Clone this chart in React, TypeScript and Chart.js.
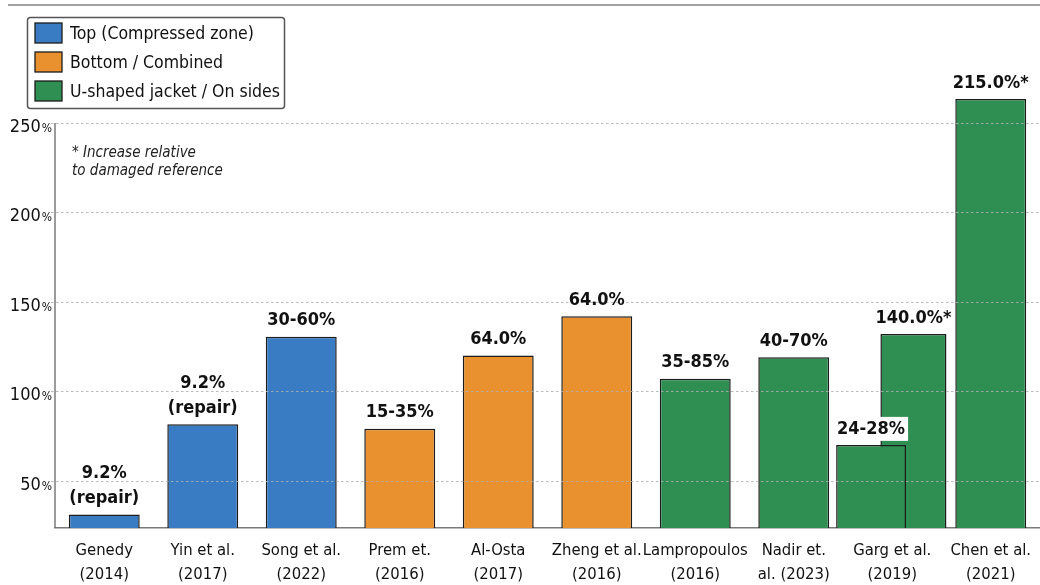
import React, { useEffect, useRef } from 'react';
import { Chart, registerables } from 'chart.js';

Chart.register(...registerables);

const FONT = '"DejaVu Sans Condensed", "DejaVu Sans", sans-serif';

const categories: string[][] = [
  ['Genedy', '(2014)'],
  ['Yin et al.', '(2017)'],
  ['Song et al.', '(2022)'],
  ['Prem et.', '(2016)'],
  ['Al-Osta', '(2017)'],
  ['Zheng et al.', '(2016)'],
  ['Lampropoulos', '(2016)'],
  ['Nadir et.', 'al. (2023)'],
  ['Garg et al.', '(2019)'],
  ['Chen et al.', '(2021)'],
];

const legendLabels = ['Top (Compressed zone)', 'Bottom / Combined', 'U-shaped jacket / On sides'];

const topValues = [31, 81.5, 130.5, null, null, null, null, null, null, null];
const bottomValues = [null, null, null, 79, 120, 142, null, null, null, null];
const uShapedValues = [null, null, null, null, null, null, 107, 119, null, 263.5];
const gargLowValues = [null, null, null, null, null, null, null, null, 70, null];
const gargHighValues = [null, null, null, null, null, null, null, null, 132, null];

const topText: (string[] | null)[] = [['9.2%', '(repair)'], ['9.2%', '(repair)'], ['30-60%'], null, null, null, null, null, null, null];
const bottomText: (string[] | null)[] = [null, null, null, ['15-35%'], ['64.0%'], ['64.0%'], null, null, null, null];
const uShapedText: (string[] | null)[] = [null, null, null, null, null, null, ['35-85%'], ['40-70%'], null, ['215.0%*']];
const gargLowText: (string[] | null)[] = [null, null, null, null, null, null, null, null, ['24-28%'], null];
const gargHighText: (string[] | null)[] = [null, null, null, null, null, null, null, null, ['140.0%*'], null];

const yTicks = [50, 100, 150, 200, 250];
const noteLines = ['* Increase relative', 'to damaged reference'];

const COLORS = { top: '#3a7cc3', bottom: '#e8912e', u: '#2f8f53' };

const overlayPlugin = {
  id: 'overlay',
  afterDatasetsDraw(chart: any) {
    const { ctx, chartArea, scales } = chart;
    const y = scales.y;
    ctx.save();
    ctx.strokeStyle = 'rgba(175,175,175,0.85)';
    ctx.lineWidth = 1;
    ctx.setLineDash([2.5, 2.5]);
    yTicks.forEach((v) => {
      const py = Math.round(y.getPixelForValue(v)) + 0.5;
      ctx.beginPath();
      ctx.moveTo(chartArea.left - 4, py);
      ctx.lineTo(chartArea.right, py);
      ctx.stroke();
    });
    ctx.restore();
    ctx.save();
    ctx.strokeStyle = '#7a7a7a';
    ctx.lineWidth = 1.5;
    ctx.beginPath();
    ctx.moveTo(chartArea.left, y.getPixelForValue(yTicks[yTicks.length - 1]));
    ctx.lineTo(chartArea.left, chartArea.bottom);
    ctx.stroke();
    ctx.restore();
    ctx.save();
    ctx.font = `bold 18px ${FONT}`;
    ctx.textAlign = 'center';
    ctx.textBaseline = 'middle';
    chart.data.datasets.forEach((ds: any, di: number) => {
      const meta = chart.getDatasetMeta(di);
      meta.data.forEach((bar: any, i: number) => {
        const lines = ds.valueText ? ds.valueText[i] : null;
        if (!lines || ds.data[i] == null) return;
        const n = lines.length;
        lines.forEach((line: string, li: number) => {
          const cy = bar.y - 16 - (n - 1 - li) * 25;
          if (ds.labelBackground) {
            const w = ctx.measureText(line).width + 6;
            ctx.fillStyle = '#ffffff';
            ctx.fillRect(bar.x - w / 2, cy - 12, w, 24);
          }
          ctx.fillStyle = '#111111';
          ctx.fillText(line, bar.x, cy);
        });
      });
    });
    ctx.restore();
  },
  afterDraw(chart: any) {
    const { ctx, chartArea, scales } = chart;
    const y = scales.y;
    ctx.save();
    ctx.strokeStyle = '#a0a0a0';
    ctx.lineWidth = 2;
    ctx.beginPath();
    ctx.moveTo(8, 5);
    ctx.lineTo(chart.width, 5);
    ctx.stroke();
    ctx.restore();
    ctx.save();
    ctx.fillStyle = '#111111';
    ctx.textBaseline = 'alphabetic';
    yTicks.forEach((v) => {
      const py = y.getPixelForValue(v) + 9;
      ctx.font = `12px ${FONT}`;
      const pw = ctx.measureText('%').width;
      ctx.textAlign = 'right';
      ctx.fillText('%', chartArea.left - 3, py);
      ctx.font = `18px ${FONT}`;
      ctx.fillText(String(v), chartArea.left - 3 - pw - 1, py);
    });
    ctx.restore();
    ctx.save();
    ctx.fillStyle = '#222222';
    ctx.font = `italic 15px ${FONT}`;
    ctx.textAlign = 'left';
    ctx.textBaseline = 'middle';
    noteLines.forEach((t, i) => ctx.fillText(t, 72, 153 + i * 18));
    ctx.restore();
    ctx.save();
    const bx = 27.5, by = 17.5, bw = 257, bh = 91;
    ctx.fillStyle = '#ffffff';
    ctx.strokeStyle = '#555555';
    ctx.lineWidth = 1.5;
    ctx.beginPath();
    (ctx as any).roundRect(bx, by, bw, bh, 3);
    ctx.fill();
    ctx.stroke();
    const items = chart.data.datasets.filter((d: any) => d.inLegend);
    ctx.font = `17.5px ${FONT}`;
    ctx.textAlign = 'left';
    ctx.textBaseline = 'middle';
    items.forEach((d: any, i: number) => {
      const cy = 33 + i * 29;
      ctx.fillStyle = d.backgroundColor;
      ctx.fillRect(35, cy - 10, 27, 20);
      ctx.strokeStyle = '#1c1c1c';
      ctx.lineWidth = 1.3;
      ctx.strokeRect(35, cy - 10, 27, 20);
      ctx.fillStyle = '#111111';
      ctx.fillText(d.label, 70, cy + 1);
    });
    ctx.restore();
  },
};

export default function App() {
  const ref = useRef<HTMLCanvasElement | null>(null);
  useEffect(() => {
    if (!ref.current) return;
    const common = {
      borderColor: '#1c1c1c',
      borderWidth: 1.5,
      stack: 'main',
      skipNull: true,
      categoryPercentage: 1,
      barPercentage: 0.72,
    };
    const chart = new Chart(ref.current, {
      type: 'bar',
      data: {
        labels: categories as any,
        datasets: [
          { ...common, label: legendLabels[0], data: topValues, backgroundColor: COLORS.top, valueText: topText, inLegend: true } as any,
          { ...common, label: legendLabels[1], data: bottomValues, backgroundColor: COLORS.bottom, valueText: bottomText, inLegend: true } as any,
          { ...common, label: legendLabels[2], data: uShapedValues, backgroundColor: COLORS.u, valueText: uShapedText, inLegend: true } as any,
          { ...common, label: legendLabels[2], data: gargLowValues, backgroundColor: COLORS.u, valueText: gargLowText, stack: 'gargLow', categoryPercentage: 0.86, barPercentage: 1.65, labelBackground: true, inLegend: false } as any,
          { ...common, label: legendLabels[2], data: gargHighValues, backgroundColor: COLORS.u, valueText: gargHighText, stack: 'gargHigh', categoryPercentage: 0.86, barPercentage: 1.56, inLegend: false } as any,
        ],
      },
      options: {
        animation: false,
        responsive: true,
        maintainAspectRatio: false,
        layout: { padding: { top: 40, left: 0, right: 0, bottom: 0 } },
        plugins: { legend: { display: false }, tooltip: { enabled: false } },
        scales: {
          x: {
            type: 'category',
            grid: { display: false },
            border: { display: true, color: '#7a7a7a', width: 1.5 },
            ticks: {
              color: '#111111',
              font: { family: FONT, size: 16.5, lineHeight: 1.45 },
              padding: 3,
              maxRotation: 0,
              autoSkip: false,
            },
            afterFit: (s: any) => { s.height = 57; s.paddingLeft = 0; s.paddingRight = 0; },
          },
          y: {
            stacked: false,
            min: 23.5,
            max: 296.5,
            grid: { display: false },
            border: { display: false },
            ticks: { display: false },
            afterBuildTicks: (s: any) => { s.ticks = yTicks.map((v) => ({ value: v })); },
            afterFit: (s: any) => { s.width = 55; },
          },
        },
      } as any,
      plugins: [overlayPlugin],
    });
    return () => chart.destroy();
  }, []);
  return (
    <div style={{ position: 'fixed', left: 0, top: 0, width: 1040, height: 585, background: '#ffffff' }}>
      <canvas ref={ref} />
    </div>
  );
}
